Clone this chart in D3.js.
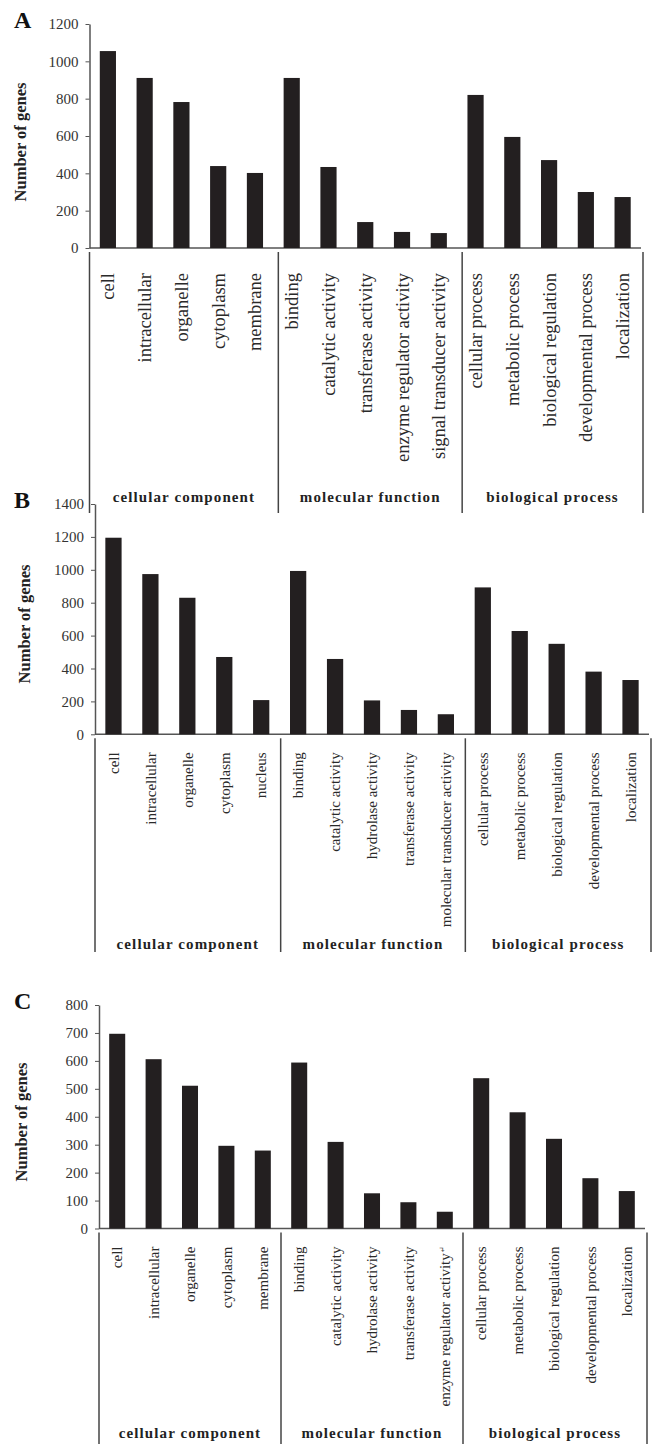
<!DOCTYPE html>
<html lang="en">
<head>
<meta charset="UTF-8">
<title>GO annotation</title>
<script src="https://d3js.org/d3.v7.min.js"></script>
<style>
    body { margin: 0; background: #fff; }
    svg { display: block; font-family: "Liberation Serif", "DejaVu Serif", serif; }
    .tick text { fill: #333; font-size: 15px; }
    .tick line { stroke: #555; }
</style>
</head>
<body>
<div id="container"></div>
<script>
    // panel A
    const catsA = ['cell', 'intracellular', 'organelle', 'cytoplasm', 'membrane',
        'binding', 'catalytic activity', 'transferase activity', 'enzyme regulator activity', 'signal transducer activity',
        'cellular process', 'metabolic process', 'biological regulation', 'developmental process', 'localization'];
    const valsA = [1055, 911, 782, 439, 402, 911, 434, 139, 86, 80, 820, 595, 471, 300, 273];
    const ticksA = [0, 200, 400, 600, 800, 1000, 1200];

    // panel B
    const catsB = ['cell', 'intracellular', 'organelle', 'cytoplasm', 'nucleus',
        'binding', 'catalytic activity', 'hydrolase activity', 'transferase activity', 'molecular transducer activity',
        'cellular process', 'metabolic process', 'biological regulation', 'developmental process', 'localization'];
    const valsB = [1195, 974, 830, 470, 208, 993, 458, 206, 148, 122, 893, 628, 550, 381, 330];
    const ticksB = [0, 200, 400, 600, 800, 1000, 1200, 1400];

    // panel C
    const catsC = ['cell', 'intracellular', 'organelle', 'cytoplasm', 'membrane',
        'binding', 'catalytic activity', 'hydrolase activity', 'transferase activity', 'enzyme regulator activity',
        'cellular process', 'metabolic process', 'biological regulation', 'developmental process', 'localization'];
    const valsC = [697, 606, 511, 296, 279, 594, 310, 126, 94, 60, 538, 416, 321, 180, 134];
    const ticksC = [0, 100, 200, 300, 400, 500, 600, 700, 800];

    const groups = ['cellular component', 'molecular function', 'biological process'];
    const groupSize = 5;

    const svg = d3.select('#container').append('svg')
        .attr('width', 652)
        .attr('height', 1444);

    // layout of each panel (pixels)
    const panels = [
        {letter: 'A', cats: catsA, vals: valsA, ticks: ticksA,
         x0: 89.5, x1: 641, yTop: 24, yBot: 248, letterY: 28, titleX: 20, titleY: 142,
         catSize: 18.5, catGap: 25, groupY: 502, lineEnd: 513, nudge: 5},
        {letter: 'B', cats: catsB, vals: valsB, ticks: ticksB,
         x0: 95, x1: 649, yTop: 504, yBot: 734.3, letterY: 508, titleX: 24, titleY: 624,
         catSize: 15, catGap: 18, groupY: 949, lineEnd: 952, nudge: 1},
        {letter: 'C', cats: catsC, vals: valsC, ticks: ticksC,
         x0: 99, x1: 645, yTop: 1005, yBot: 1228.5, letterY: 1009, titleX: 21.7, titleY: 1122,
         catSize: 15, catGap: 18, groupY: 1438, lineEnd: 1446, nudge: 0}
    ];

    panels.forEach(function(p) {
        const g = svg.append('g');

        const x = d3.scaleBand()
            .domain(p.cats)
            .range([p.x0, p.x1])
            .paddingInner(0.56)
            .paddingOuter(0.28);

        const y = d3.scaleLinear()
            .domain([0, d3.max(p.ticks)])
            .range([p.yBot, p.yTop]);

        const half = (x.step() - x.bandwidth()) / 2;

        // y axis
        const yAxis = g.append('g')
            .attr('transform', 'translate(' + p.x0 + ',0)')
            .call(d3.axisLeft(y).tickValues(p.ticks).tickFormat(d3.format('d'))
                .tickSize(4).tickSizeOuter(0).tickPadding(7));
        yAxis.attr('font-family', null).attr('font-size', null);
        yAxis.select('.domain').attr('stroke', '#555').attr('stroke-width', 1.5);

        // x axis line
        g.append('line')
            .attr('x1', p.x0).attr('x2', p.x1)
            .attr('y1', y(0)).attr('y2', y(0))
            .attr('stroke', '#555')
            .attr('stroke-width', 1.5);

        // bars
        g.selectAll('rect')
            .data(p.vals)
            .enter()
            .append('rect')
            .attr('x', (d, i) => x(p.cats[i]))
            .attr('y', d => y(d))
            .attr('width', x.bandwidth())
            .attr('height', d => y(0) - y(d))
            .attr('fill', '#231f20');

        // category labels, rotated
        g.selectAll('.cat')
            .data(p.cats)
            .enter()
            .append('text')
            .attr('class', 'cat')
            .attr('transform', d => 'translate(' + (x(d) + x.bandwidth() / 2) + ',' + (y(0) + p.catGap) + ') rotate(-90)')
            .attr('dy', '0.35em')
            .attr('text-anchor', 'end')
            .attr('font-size', p.catSize)
            .attr('fill', '#2a2a2a')
            .text(d => d);

        if (p.letter === 'C') {
            g.selectAll('.cat')
                .filter(d => d === 'enzyme regulator activity')
                .append('tspan')
                .attr('font-size', 8)
                .attr('dy', '-0.6em')
                .text('\u21b5');
        }

        // group separators
        const edges = groups.map((gr, i) => i === 0 ? p.x0 : x(p.cats[i * groupSize]) - half + p.nudge);
        edges.push(p.x1 + 2);
        g.selectAll('.sep')
            .data(edges)
            .enter()
            .append('line')
            .attr('x1', d => d).attr('x2', d => d)
            .attr('y1', y(0) + 4)
            .attr('y2', p.lineEnd)
            .attr('stroke', '#444')
            .attr('stroke-width', 1.5);

        // group labels
        g.selectAll('.grp')
            .data(groups)
            .enter()
            .append('text')
            .attr('x', (d, i) => (edges[i] + edges[i + 1]) / 2)
            .attr('y', p.groupY)
            .attr('text-anchor', 'middle')
            .attr('font-size', 15)
            .attr('font-weight', 'bold')
            .attr('letter-spacing', 1.1)
            .attr('fill', '#222')
            .text(d => d);

        // y title
        g.append('text')
            .attr('transform', 'translate(' + p.titleX + ',' + p.titleY + ') rotate(-90)')
            .attr('dy', '0.35em')
            .attr('text-anchor', 'middle')
            .attr('font-size', 16.5)
            .attr('font-weight', 'bold')
            .attr('fill', '#222')
            .text('Number of genes');

        // panel letter
        g.append('text')
            .attr('x', 14)
            .attr('y', p.letterY)
            .attr('font-size', 24)
            .attr('font-weight', 'bold')
            .attr('fill', '#111')
            .text(p.letter);
    });
</script>
</body>
</html>
